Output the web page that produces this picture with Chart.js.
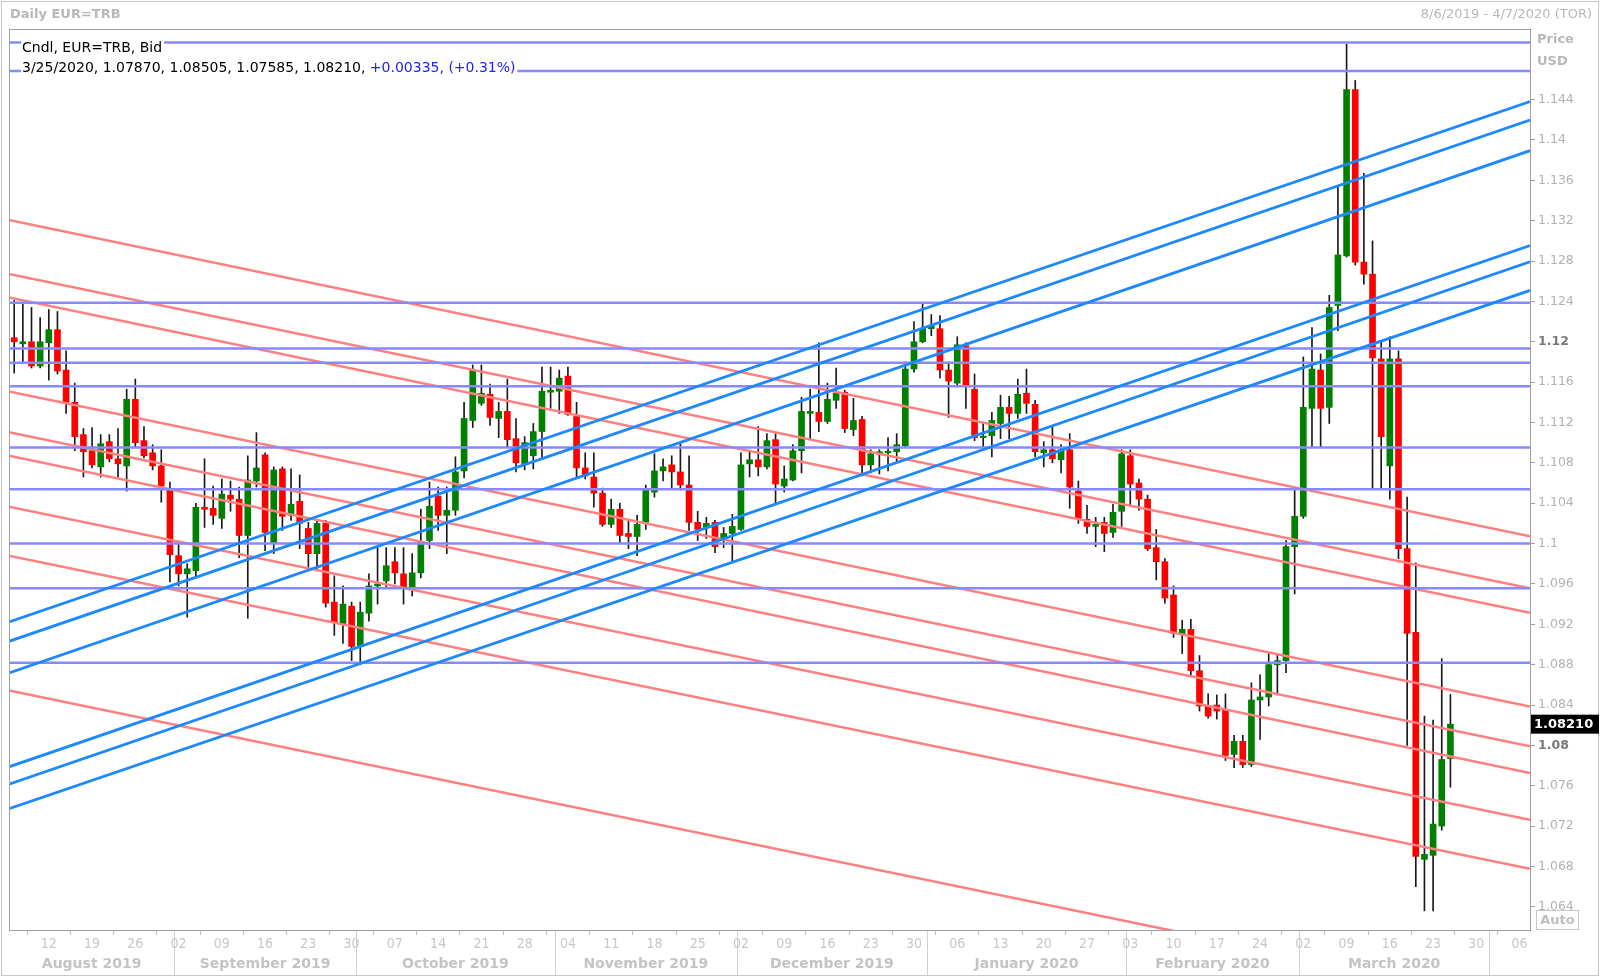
<!DOCTYPE html>
<html><head><meta charset="utf-8">
<script src="https://cdn.jsdelivr.net/npm/chart.js@4/dist/chart.umd.min.js"></script>
<style>html,body{margin:0;padding:0;background:#fff;overflow:hidden}#wrap{position:relative;width:1600px;height:977px}</style>
</head><body><div id="wrap"><canvas id="c" width="1600" height="977"></canvas></div>
<script>
// ---- DATA ----
const candleStart = -4; // trading-day index of first candle (Aug 6, 2019); index 0 = Aug 12, 2019
const opens  = [1.1204,1.1198,1.1200,1.1176,1.1199,1.1212,1.1172,1.1140,1.1108,1.1092,1.1076,1.1101,1.1084,1.1077,1.1143,1.1102,1.1090,1.1077,1.1053,1.0988,
1.0970,1.0973,1.1036,1.1035,1.1025,1.1048,1.1044,1.1008,1.1062,1.1088,1.1001,1.1074,1.1028,1.1042,1.1015,1.0990,1.1020,1.0942,1.0920,1.0938,
1.0898,1.0931,1.0958,1.0963,1.0982,1.0970,1.0957,1.0971,1.1003,1.1047,1.1028,1.1033,1.1072,1.1122,1.1139,1.1148,1.1124,1.1131,1.1104,1.1079,
1.1087,1.1111,1.1150,1.1151,1.1166,1.1126,1.1075,1.1066,1.1050,1.1019,1.1034,1.1010,1.1007,1.1021,1.1051,1.1072,1.1078,1.1071,1.1058,1.1021,
1.1016,1.1021,1.1005,1.1010,1.1014,1.1079,1.1083,1.1076,1.1103,1.1057,1.1063,1.1092,1.1129,1.1130,1.1121,1.1142,1.1150,1.1113,1.1123,1.1078,
1.1089,1.1090,1.1091,1.1097,1.1173,1.1200,1.1213,1.1213,1.1172,1.1159,1.1196,1.1153,1.1105,1.1107,1.1119,1.1135,1.1129,1.1149,1.1138,1.1090,
1.1093,1.1083,1.1093,1.1052,1.1024,1.1017,1.1021,1.1011,1.1032,1.1087,1.1060,1.1044,1.0996,1.0982,1.0949,1.0910,1.0915,1.0874,1.0839,1.0840,
1.0835,1.0791,1.0804,1.0781,1.0845,1.0848,1.0880,1.0884,1.0997,1.1027,1.1134,1.1172,1.1135,1.1236,1.1285,1.1450,1.1279,1.1267,1.1183,1.1077,
1.1183,1.0995,1.0912,1.0687,1.0691,1.0720,1.0787];
const highs  = [1.1241,1.1238,1.1234,1.1224,1.1232,1.1230,1.1191,1.1159,1.1114,1.1115,1.1108,1.1108,1.1114,1.1153,1.1163,1.1116,1.1098,1.1093,1.1061,1.1000,
1.0980,1.1040,1.1084,1.1057,1.1064,1.1062,1.1056,1.1087,1.1110,1.1090,1.1076,1.1076,1.1074,1.1068,1.1021,1.1024,1.1023,1.0968,1.0958,1.0942,
1.0942,1.0970,1.0998,1.0996,1.0996,1.0996,1.0990,1.1034,1.1061,1.1056,1.1056,1.1086,1.1140,1.1177,1.1177,1.1158,1.1140,1.1163,1.1124,1.1106,
1.1119,1.1175,1.1175,1.1172,1.1175,1.1140,1.1090,1.1090,1.1055,1.1044,1.1040,1.1023,1.1028,1.1058,1.1089,1.1084,1.1087,1.1099,1.1087,1.1032,
1.1026,1.1023,1.1016,1.1029,1.1090,1.1091,1.1116,1.1109,1.1109,1.1077,1.1098,1.1145,1.1153,1.1199,1.1159,1.1174,1.1152,1.1144,1.1126,1.1093,
1.1093,1.1105,1.1109,1.1180,1.1220,1.1238,1.1227,1.1226,1.1180,1.1205,1.1199,1.1168,1.1120,1.1130,1.1147,1.1146,1.1163,1.1173,1.1142,1.1101,
1.1117,1.1098,1.1109,1.1062,1.1038,1.1026,1.1026,1.1039,1.1093,1.1093,1.1064,1.1048,1.1014,1.0985,1.0958,1.0924,1.0925,1.0889,1.0851,1.0850,
1.0851,1.0810,1.0810,1.0862,1.0870,1.0891,1.0890,1.1003,1.1053,1.1185,1.1214,1.1188,1.1246,1.1353,1.1495,1.1459,1.1367,1.1300,1.1200,1.1205,
1.1191,1.1046,1.0981,1.0829,1.0825,1.0886,1.08505];
const lows   = [1.1169,1.1179,1.1174,1.1174,1.1162,1.1168,1.1129,1.1092,1.1066,1.1075,1.1066,1.1081,1.1066,1.1052,1.1096,1.1085,1.1073,1.1041,1.0962,1.0958,
1.0927,1.0966,1.1016,1.1019,1.1015,1.1032,1.0986,1.0926,1.1056,1.0993,1.0990,1.1013,1.1023,1.0995,1.0975,1.0973,1.0937,1.0909,1.0901,1.0884,
1.0880,1.0923,1.0940,1.0957,1.0960,1.0940,1.0948,1.0966,1.0995,1.1013,1.0990,1.1028,1.1065,1.1115,1.1137,1.1117,1.1105,1.1096,1.1071,1.1073,
1.1074,1.1085,1.1134,1.1129,1.1127,1.1066,1.1064,1.1036,1.1017,1.1016,1.1001,1.0995,1.0988,1.1014,1.1046,1.1062,1.1055,1.1053,1.1013,1.1003,
1.1005,1.0991,1.0996,1.0983,1.1013,1.1066,1.1067,1.1074,1.1040,1.1051,1.1062,1.1070,1.1104,1.1111,1.1119,1.1134,1.1110,1.1107,1.1067,1.1070,
1.1069,1.1072,1.1081,1.1096,1.1170,1.1199,1.1206,1.1164,1.1125,1.1157,1.1134,1.1102,1.1096,1.1086,1.1104,1.1104,1.1124,1.1129,1.1086,1.1076,
1.1080,1.1070,1.1035,1.1020,1.1010,1.0997,1.0992,1.1006,1.1017,1.1038,1.1033,1.0993,1.0964,1.0941,1.0907,1.0891,1.0868,1.0834,1.0827,1.0826,
1.0785,1.0778,1.0778,1.0779,1.0806,1.0839,1.0850,1.0872,1.0950,1.1025,1.1096,1.1096,1.1119,1.1211,1.1284,1.1276,1.1257,1.1055,1.1054,1.1044,
1.0985,1.0800,1.0660,1.0636,1.0636,1.0716,1.07585];
const closes = [1.1200,1.1200,1.1176,1.1200,1.1212,1.1171,1.1140,1.1106,1.1091,1.1078,1.1099,1.1084,1.1079,1.1143,1.1100,1.1087,1.1077,1.1057,1.0989,1.0970,
1.0975,1.1036,1.1034,1.1028,1.1049,1.1044,1.1008,1.1063,1.1075,1.1011,1.1073,1.1027,1.1039,1.1020,1.0990,1.1020,1.0941,1.0922,1.0940,1.0898,
1.0932,1.0958,1.0960,1.0978,1.0971,1.0957,1.0971,1.1002,1.1037,1.1028,1.1033,1.1071,1.1124,1.1172,1.1149,1.1125,1.1131,1.1103,1.1080,1.1100,
1.1111,1.1151,1.1152,1.1164,1.1128,1.1075,1.1067,1.1050,1.1019,1.1034,1.1008,1.1007,1.1019,1.1053,1.1072,1.1076,1.1071,1.1058,1.1021,1.1014,
1.1020,1.0997,1.1010,1.1017,1.1078,1.1083,1.1076,1.1102,1.1059,1.1064,1.1092,1.1131,1.1131,1.1121,1.1143,1.1149,1.1114,1.1122,1.1078,1.1089,
1.1091,1.1091,1.1098,1.1173,1.1200,1.1213,1.1216,1.1172,1.1161,1.1197,1.1156,1.1105,1.1106,1.1122,1.1135,1.1129,1.1148,1.1139,1.1091,1.1093,
1.1084,1.1093,1.1056,1.1025,1.1017,1.1019,1.1010,1.1031,1.1089,1.1059,1.1044,1.0995,1.0982,1.0946,1.0911,1.0915,1.0874,1.0839,1.0829,1.0834,
1.0790,1.0804,1.0781,1.0845,1.0848,1.0880,1.0884,1.0997,1.1027,1.1135,1.1173,1.1134,1.1234,1.1286,1.1450,1.1279,1.1267,1.1184,1.1106,1.1183,
1.0995,1.0911,1.0690,1.0692,1.0722,1.0786,1.0821];

// horizontal levels and trend lines (values at left edge / right edge of the plot)
const hLevels   = [1.14966,1.14683,1.12388,1.11933,1.11791,1.11559,1.10952,1.10538,1.10000,1.09557,1.08819];
const blueStart = [1.09223,1.09031,1.08717,1.07787,1.07615,1.07373];
const blueEnd   = [1.14380,1.14198,1.13894,1.12954,1.12792,1.12509];
const redStart  = [1.13207,1.12671,1.12438,1.11508,1.11104,1.10871,1.10365,1.09880,1.08545];
const redEnd    = [1.10072,1.09557,1.09314,1.08384,1.07990,1.07727,1.07262,1.06776,1.05431];

const xTickLabels = ['12','19','26','02','09','16','23','30','07','14','21','28','04','11','18','25','02','09','16','23','30','06','13','20','27','03','10','17','24','02','09','16','23','30','06'];
const yTickLabels = ['1.064','1.068','1.072','1.076','1.08','1.084','1.088','1.092','1.096','1.1','1.104','1.108','1.112','1.116','1.12','1.124','1.128','1.132','1.136','1.14','1.144'];
const monthNames  = ['August 2019','September 2019','October 2019','November 2019','December 2019','January 2020','February 2020','March 2020'];
const monthBounds = [-4.6,14.5,35.5,58.5,79.5,101.5,124.5,144.5,166.5];
const boldTicks = ['1.12','1.08'];
const lastQuote = '1.08210';

// ---- CHART ----
const X0 = -4.6, X1 = 171.2, YMIN = 1.0617, YMAX = 1.1510;
const GRAY = '#b2b2b2';
Chart.defaults.font.family = 'DejaVu Sans';

const bodies = opens.map((o,k)=>({x:candleStart+k, y:[o, closes[k]]}));
const wicks  = lows.map((l,k)=>({x:candleStart+k, y:[l, highs[k]]}));
const bodyColors = opens.map((o,k)=> closes[k] >= o ? '#008000' : '#ff0000');

function lineDs(a,b,color,w,order){
  return {type:'line', data:[{x:X0,y:a},{x:X1,y:b}], borderColor:color, borderWidth:w,
          pointRadius:0, fill:false, tension:0, order:order};
}
const datasets = [
  {type:'bar', data:wicks, backgroundColor:'#1a1a1a', barThickness:1, grouped:false, order:10},
  {type:'bar', data:bodies, backgroundColor:bodyColors, barThickness:6, grouped:false, minBarLength:1.5, order:9},
];
redStart.forEach((v,k)=>datasets.push(lineDs(v, redEnd[k], '#ff8080', 2.5, 3)));
hLevels.forEach(v=>datasets.push(lineDs(v, v, '#8888ff', 2.5, 2)));
blueStart.forEach((v,k)=>datasets.push(lineDs(v, blueEnd[k], '#1e88ff', 2.8, 1)));

const deco = {
  id:'deco',
  afterDraw(chart){
    const c = chart.ctx, a = chart.chartArea, xs = chart.scales.x, ys = chart.scales.y;
    c.save();
    // outer frame
    c.strokeStyle = '#c8c8c8'; c.lineWidth = 1;
    c.strokeRect(1.5, 1.5, 1597, 974);
    // plot border
    c.strokeStyle = '#a0a0a0';
    c.strokeRect(Math.round(a.left)+0.5, Math.round(a.top)+0.5, Math.round(a.right-a.left), Math.round(a.bottom-a.top));
    // title + range
    c.fillStyle = '#b8b8b8'; c.textBaseline = 'middle';
    c.font = 'bold 13px "DejaVu Sans"'; c.textAlign = 'left';
    c.fillText('Daily EUR=TRB', 10, 15);
    c.font = '13px "DejaVu Sans"'; c.textAlign = 'right';
    c.fillText('8/6/2019 - 4/7/2020 (TOR)', 1592, 15);
    // Price / USD
    c.font = 'bold 13px "DejaVu Sans"'; c.textAlign = 'left'; c.fillStyle = '#b8b8b8';
    c.fillText('Price', 1537, 40);
    c.fillText('USD', 1537, 62);
    // legend text
    c.font = '14px "DejaVu Sans"'; c.textAlign = 'left';
    const t1 = 'Cndl, EUR=TRB, Bid';
    const t2a = '3/25/2020, 1.07870, 1.08505, 1.07585, 1.08210, ';
    const t2b = '+0.00335, (+0.31%)';
    const w1 = c.measureText(t1).width, w2a = c.measureText(t2a).width, w2b = c.measureText(t2b).width;
    c.fillStyle = '#ffffff';
    c.fillRect(21, 39, w1+3, 17);
    c.fillRect(21, 60, w2a+w2b+3, 17);
    c.fillStyle = '#000000';
    c.fillText(t1, 22, 48);
    c.fillText(t2a, 22, 68.5);
    c.fillStyle = '#2020ff';
    c.fillText(t2b, 22+w2a, 68.5);
    // current price box
    const py = ys.getPixelForValue(parseFloat(lastQuote));
    c.fillStyle = '#000'; c.fillRect(1531, py-9.5, 68, 19);
    c.fillStyle = '#fff'; c.font = 'bold 13px "DejaVu Sans"'; c.textAlign = 'left';
    c.fillText(lastQuote, 1534, py+0.5);
    // Auto box
    c.strokeStyle = '#c8c8c8'; c.strokeRect(1536.5, 910.5, 42, 19);
    c.fillStyle = '#c0c0c0'; c.font = 'bold 13px "DejaVu Sans"'; c.textAlign = 'center';
    c.fillText('Auto', 1557.5, 920.5);
    // month separators and labels
    c.strokeStyle = '#d0d0d0'; c.lineWidth = 1;
    for (let k=1;k<monthBounds.length;k++){
      const px = Math.round(xs.getPixelForValue(monthBounds[k]))+0.5;
      c.beginPath(); c.moveTo(px, a.bottom+1); c.lineTo(px, 975); c.stroke();
    }
    c.fillStyle = '#c4c4c4'; c.font = 'bold 14px "DejaVu Sans"'; c.textAlign = 'center';
    monthNames.forEach((m,k)=>{
      const l = xs.getPixelForValue(monthBounds[k]), r = xs.getPixelForValue(monthBounds[k+1]);
      c.fillText(m, (l+r)/2, 964);
    });
    c.restore();
  }
};

new Chart(document.getElementById('c'), {
  type:'bar',
  data:{datasets},
  options:{
    responsive:false, animation:false, devicePixelRatio:1,
    layout:{padding:{left:9, top:29, right:0, bottom:0}},
    plugins:{legend:{display:false}, tooltip:{enabled:false}},
    scales:{
      x:{type:'linear', min:X0, max:X1, offset:false,
         afterBuildTicks:(s)=>{ s.ticks = xTickLabels.map((_,k)=>({value:k*5})); },
         afterFit:(s)=>{ s.height = 47; },
         grid:{drawOnChartArea:false, tickLength:5, color:'#c0c0c0'},
         border:{color:'#a0a0a0'},
         ticks:{autoSkip:false, maxRotation:0, padding:1, color:'#c8c8c8',
                font:{family:"'DejaVu Sans Condensed', 'DejaVu Sans'", size:14},
                callback:(v,i)=>xTickLabels[i]}},
      y:{type:'linear', position:'right', min:YMIN, max:YMAX,
         afterBuildTicks:(s)=>{ s.ticks = yTickLabels.map(t=>({value:parseFloat(t)})); },
         afterFit:(s)=>{ s.width = 70; },
         grid:{drawOnChartArea:false, tickLength:5, color:'#a0a0a0'},
         border:{color:'#a0a0a0'},
         ticks:{padding:3, crossAlign:'near',
                color:(ctx)=> boldTicks.includes(yTickLabels[ctx.index]) ? '#7a7a7a' : GRAY,
                font:(ctx)=> ({family:'DejaVu Sans', size:12.5, weight: boldTicks.includes(yTickLabels[ctx.index]) ? 'bold':'normal'}),
                callback:(v,i)=>yTickLabels[i]}}
    }
  },
  plugins:[deco]
});
</script></body></html>
